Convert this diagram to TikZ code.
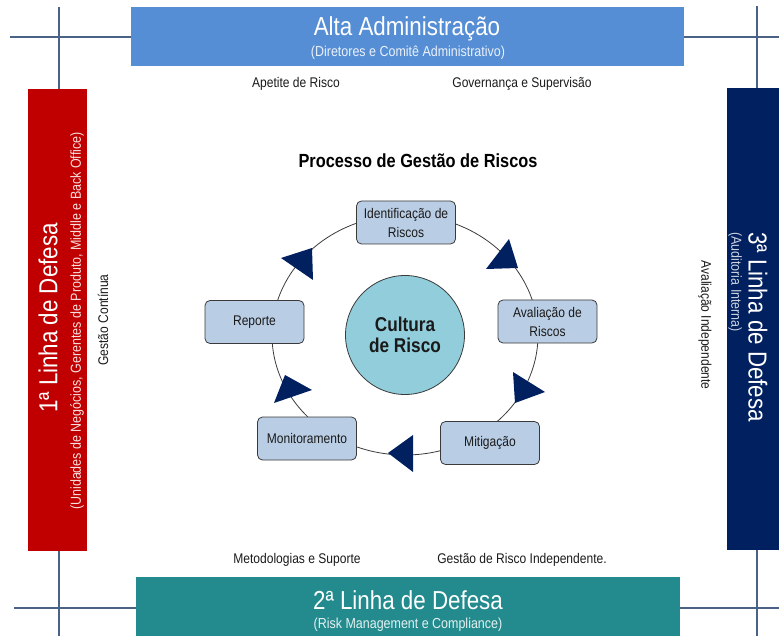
\documentclass[tikz,border=0pt]{standalone}
\usepackage{fontspec}
\setmainfont{Liberation Sans}[FakeStretch=0.86]
\usetikzlibrary{shapes.geometric}
\definecolor{topblue}{HTML}{558ED5}
\definecolor{redbar}{HTML}{C00000}
\definecolor{navybar}{HTML}{002060}
\definecolor{tealbar}{HTML}{238B8E}
\definecolor{linecol}{HTML}{4A6285}
\definecolor{boxfill}{HTML}{B9CDE5}
\definecolor{circfill}{HTML}{92CDDC}
\definecolor{bordercol}{HTML}{3A3A3A}
\definecolor{txt}{HTML}{1A1A1A}
\definecolor{arrowcol}{HTML}{002060}
\begin{document}
\begin{tikzpicture}[x=1pt,y=-1pt,
  bar/.style={rectangle, draw=none, inner sep=0pt, outer sep=0pt},
  ln/.style={draw=linecol, line width=1.1pt},
  bigtitle/.style={text=white, inner sep=0pt, font=\fontsize{26}{28}\selectfont},
  subtitle/.style={inner sep=0pt, font=\fontsize{14.5}{16}\selectfont},
  lbl/.style={text=txt, inner sep=0pt, font=\fontsize{14}{16}\selectfont},
  box/.style={rectangle, rounded corners=5pt, fill=boxfill, draw=bordercol, line width=0.8pt,
    minimum width=99pt, minimum height=43pt, inner sep=1pt, align=center, text=txt,
    font=\fontsize{14}{19}\selectfont},
  tri/.style={fill=arrowcol}
]
\useasboundingbox (0,0) rectangle (779,636);

% bars
\node[bar, fill=topblue, minimum width=553pt, minimum height=59pt] (top) at (407.5,36.5) {};
\node[bar, fill=redbar, minimum width=59pt, minimum height=462pt] (first) at (57.5,320) {};
\node[bar, fill=navybar, minimum width=52pt, minimum height=462pt] (third) at (753,319) {};
\node[bar, fill=tealbar, minimum width=544pt, minimum height=59pt] (second) at (408,606.5) {};

% cross lines
\coordinate (tlh) at (10,37);
\coordinate (tlv) at (59,7);
\coordinate (trh) at (779,37);
\coordinate (trv) at (757,6);
\coordinate (blh) at (14,608);
\coordinate (blv) at (59,636);
\coordinate (brh) at (779,608);
\coordinate (brv) at (757,636);
\draw[ln] (tlh) -- (tlh -| top.west);
\draw[ln] (tlv) -- (tlv |- first.north);
\draw[ln] (trh -| top.east) -- (trh);
\draw[ln] (trv) -- (trv |- third.north);
\draw[ln] (blh) -- (blh -| second.west);
\draw[ln] (blv |- first.south) -- (blv);
\draw[ln] (brh -| second.east) -- (brh);
\draw[ln] (brv |- third.south) -- (brv);

% bar texts
\node[bigtitle] (toptitle) at (407,29) {Alta Administração};
\node[subtitle, text=white!88!topblue] (topsub) at (408,53) {(Diretores e Comitê Administrativo)};
\node[bigtitle] (bottitle) at (408,600) {2ª Linha de Defesa};
\node[subtitle, text=white!88!tealbar] (botsub) at (408,625) {(Risk Management e Compliance)};
\node[bigtitle, rotate=90] (lefttitle) at (48,318) {1ª Linha de Defesa};
\node[subtitle, rotate=90, text=white!88!redbar] (leftsub) at (77,321) {(Unidades de Negócios, Gerentes de Produto, Middle e Back Office)};
\node[bigtitle, rotate=-90, anchor=west] (righttitle) at (758,232) {3ª Linha de Defesa};
\node[subtitle, rotate=-90, anchor=west, text=white!80!navybar] (rightsub) at (735,232) {(Auditoria Interna)};

% side labels
\node[lbl] (apetite) at (296,84) {Apetite de Risco};
\node[lbl] (gov) at (522,84) {Governança e Supervisão};
\node[lbl] (metod) at (297,560) {Metodologias e Suporte};
\node[lbl] (gestind) at (522,560) {Gestão de Risco Independente.};
\node[lbl, rotate=90] (gestcont) at (103,320) {Gestão Contínua};
\node[lbl, rotate=-90] (avalind) at (705,325) {Avaliação Independente};

% process
\node[text=black, inner sep=0pt, font=\bfseries\fontsize{19}{21}\selectfont] (proc) at (418,161) {Processo de Gestão de Riscos};
\node[ellipse, draw=bordercol, line width=0.8pt, minimum width=266pt, minimum height=240pt, inner sep=0pt] (ring) at (405,335) {};
\node[circle, fill=circfill, draw=bordercol, line width=0.8pt, minimum size=119pt, inner sep=0pt,
  align=center, text=txt, font=\bfseries\fontsize{20}{21}\selectfont] (cult) at (405,335) {Cultura\\de Risco};

\node[box] (ident) at (406,222.5) {Identificação de\\Riscos};
\node[box] (aval) at (547.5,321.5) {Avaliação de\\Riscos};
\node[box] (mitig) at (490,443) {Mitigação};
\node[box] (monit) at (307,438.5) {Monitoramento};
\node[box] (rep) at (254.5,322) {Reporte};

% arrowheads on the ring
\fill[tri] (509,239) -- (486,269) -- (518,268) -- cycle;
\fill[tri] (513,372) -- (545,392) -- (515,403) -- cycle;
\fill[tri] (413,435) -- (388,453) -- (413,472) -- cycle;
\fill[tri] (285,375) -- (312,390) -- (274,403) -- cycle;
\fill[tri] (281,258) -- (312,248) -- (313,280) -- cycle;
\end{tikzpicture}
\end{document}
